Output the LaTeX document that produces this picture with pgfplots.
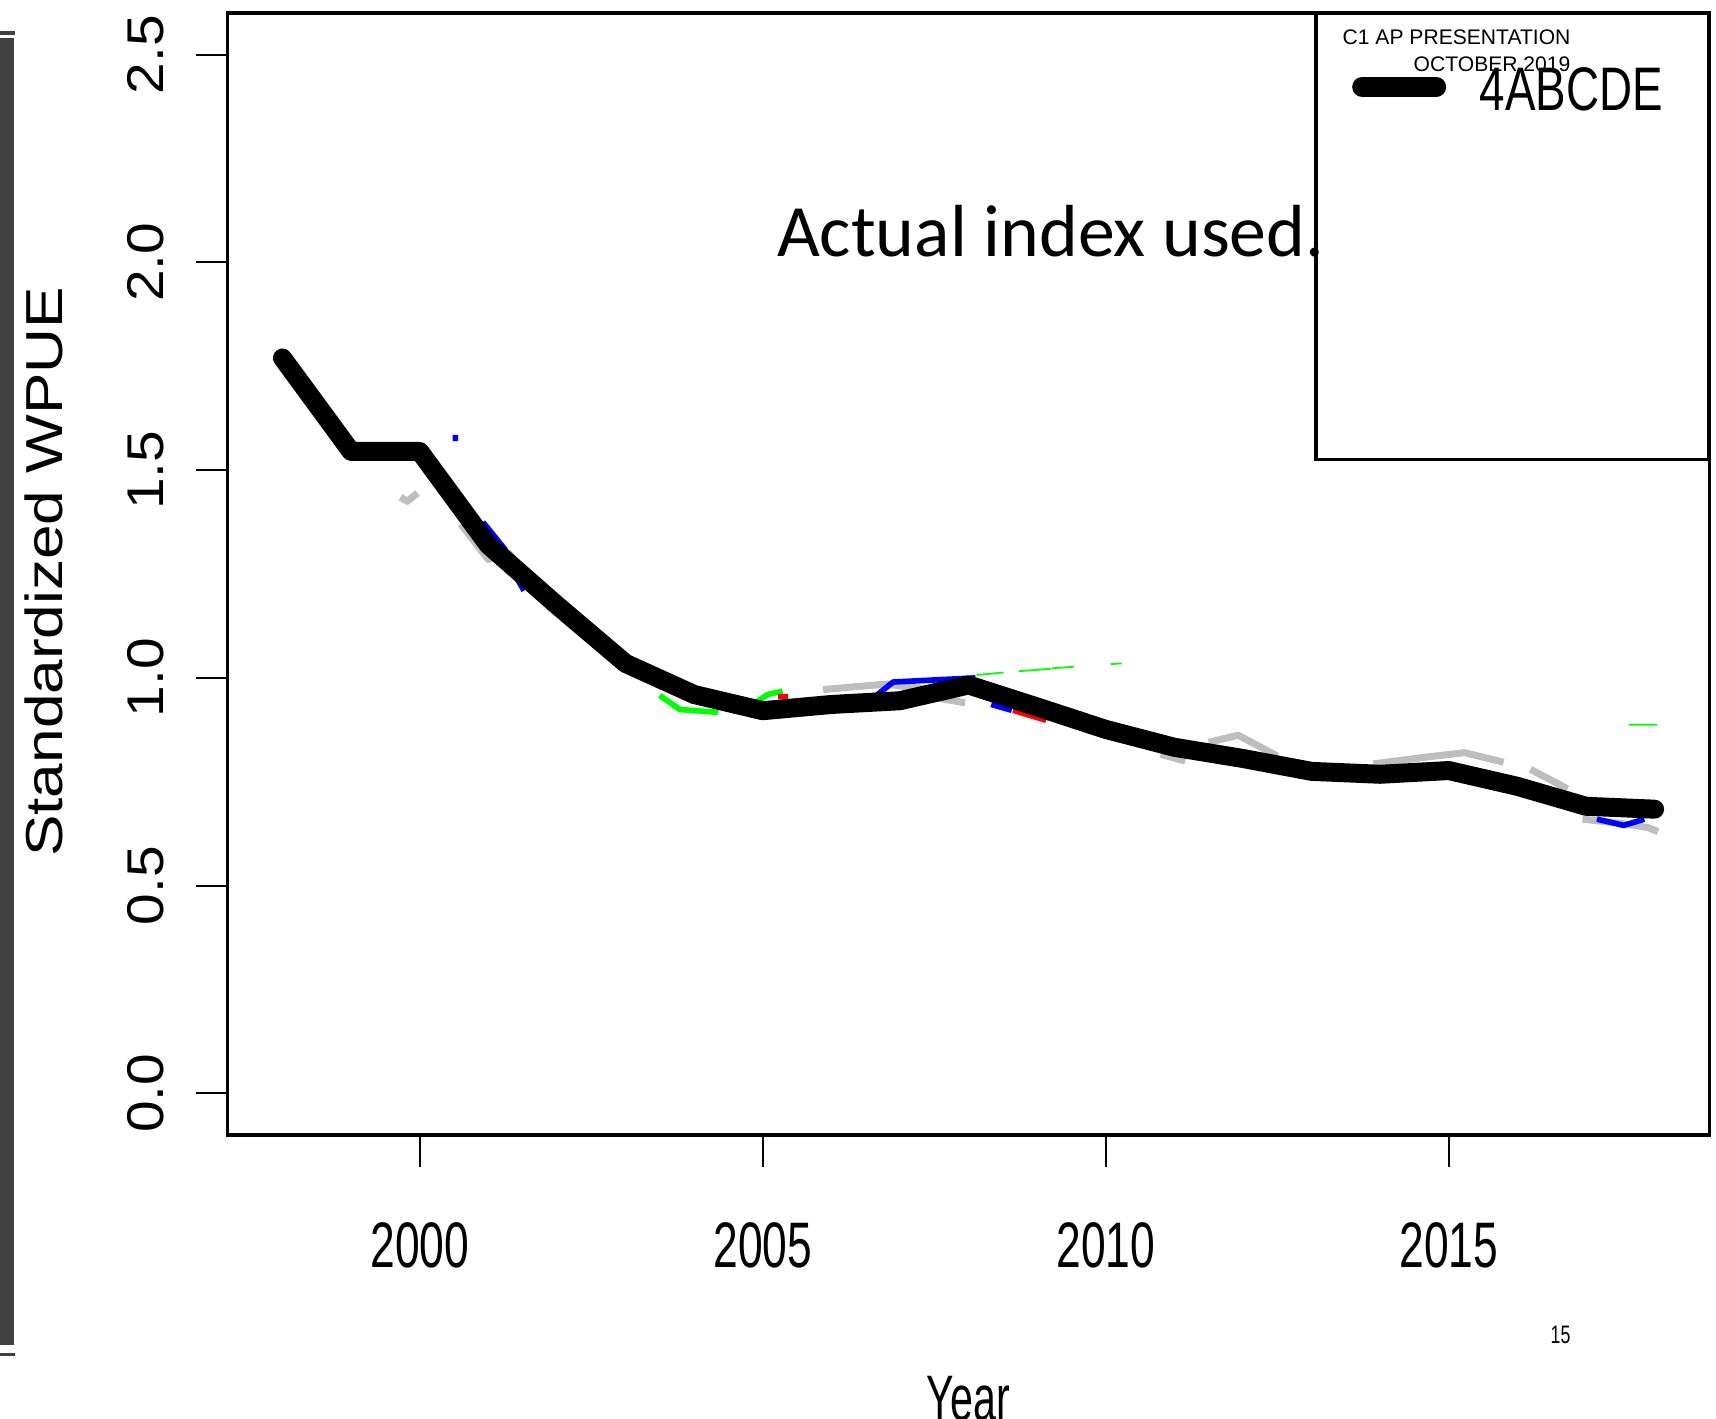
\documentclass[border=0pt]{standalone}
\usepackage{fontspec}
\setmainfont{Liberation Sans}
\newfontfamily\calibri{Carlito}
\usepackage{graphicx}
\usepackage{pgfplots}
\pgfplotsset{compat=1.18}
\definecolor{rgray}{RGB}{190,190,190}
\definecolor{rblue}{RGB}{0,0,255}
\definecolor{rgreen}{RGB}{0,255,0}
\definecolor{rred}{RGB}{255,0,0}
\definecolor{barcol}{RGB}{64,64,64}

\begin{document}
\begin{tikzpicture}
\path[use as bounding box] (0,0) rectangle (17.16cm,-14.19cm);
% slide edge on the left (units: pixels, origin top left)
\begin{scope}[x=0.01cm,y=-0.01cm]
  \fill[barcol] (0,38) rectangle (14,1346);
  \draw[barcol, line width=0.9pt] (0,33) -- (15,33) (0,1355) -- (15,1355);
\end{scope}

\begin{axis}[
    at={(2.276cm,-11.349cm)}, anchor=south west,
    scale only axis, width=14.819cm, height=11.218cm,
    xmin=1997.2, xmax=2018.8, ymin=-0.1, ymax=2.6,
    xtick={2000,2005,2010,2015},
    xticklabels={\scalebox{0.69}[1]{2000},\scalebox{0.69}[1]{2005},\scalebox{0.69}[1]{2010},\scalebox{0.69}[1]{2015}},
    ytick={0,0.5,1,1.5,2,2.5},
    yticklabels={\scalebox{1.1}[1]{0.0},\scalebox{1.1}[1]{0.5},\scalebox{1.1}[1]{1.0},\scalebox{1.1}[1]{1.5},\scalebox{1.1}[1]{2.0},\scalebox{1.1}[1]{2.5}},
    tick align=outside, xtick pos=bottom, ytick pos=left,
    major tick length=0.32cm,
    axis line style={line width=1pt},
    tick style={line width=0.6pt, black},
    xticklabel style={font=\fontsize{18.3}{20}\selectfont, anchor=north, inner sep=0pt, yshift=-0.55cm},
    yticklabel style={font=\fontsize{14.7}{16}\selectfont, rotate=90, anchor=south, inner sep=0pt, yshift=0.31cm},
    xlabel={\scalebox{0.64}[1]{Year}},
    xlabel style={font=\fontsize{18.3}{20}\selectfont, at={(axis description cs:0.5,-0.255)}, anchor=base},
    ylabel={\scalebox{1.195}[1]{Standardized WPUE}},
    ylabel style={font=\fontsize{14.8}{16}\selectfont, at={(axis description cs:-0.1117,0.502)}, anchor=base},
    unbounded coords=jump,
]
% other indices, mostly hidden behind the index in use
\addplot[rgray, line width=2pt, line join=round] coordinates {
  (1999.72,1.435)(1999.82,1.425)(1999.97,1.445) (2000,nan)
  (2000.6,1.37)(2001.0,1.285)(2001.3,1.30)(2001.55,1.25) (2002,nan)
  (2005.88,0.972)(2006.8,0.985)(2007.3,0.975)(2007.6,0.95)(2007.95,0.94) (2008,nan)
  (2010.8,0.816)(2011.16,0.80) (2011.3,nan)
  (2011.5,0.845)(2011.93,0.862)(2012.5,0.812) (2013,nan)
  (2013.9,0.793)(2014.7,0.81)(2015.23,0.82)(2015.8,0.797) (2016,nan)
  (2016.19,0.78)(2016.73,0.733) (2016.8,nan)
  (2016.95,0.66)(2017.5,0.65)(2017.9,0.64)(2018.05,0.63)
};
\addplot[rblue, line width=1.6pt, line join=round] coordinates {
  (2000.52,1.585)(2000.52,1.57) (2000.7,nan)
  (2000.92,1.375)(2001.24,1.31)(2001.35,1.26)(2001.52,1.21) (2002,nan)
  (2006.6,0.95)(2006.9,0.99)(2008.1,1.0) (2008.2,nan)
  (2008.33,0.936)(2008.63,0.922) (2009,nan)
  (2017.16,0.66)(2017.55,0.645)(2017.85,0.66)
};
\addplot[rgreen, line width=1.6pt, line join=round] coordinates {
  (2003.5,0.958)(2003.79,0.924)(2004.35,0.917) (2004.5,nan)
  (2004.9,0.941)(2005.07,0.96)(2005.29,0.968)
};
\addplot[rgreen, line width=0.5pt] coordinates {
  (2008.12,1.007)(2008.51,1.013) (2008.6,nan)
  (2008.73,1.016)(2009.2,1.022) (2009.21,nan)
  (2009.22,1.023)(2009.54,1.027) (2009.8,nan)
  (2010.07,1.033)(2010.23,1.035) (2012,nan)
  (2017.63,0.887)(2018.04,0.887)
};
\addplot[rred, line width=1.6pt] coordinates {
  (2005.22,0.955)(2005.37,0.955) (2006,nan)
  (2008.65,0.922)(2009.13,0.898)
};
% index used
\addplot[black, line width=5.4pt, line join=round, line cap=round] coordinates {
  (1998,1.77)(1999,1.545)(2000,1.545)(2001,1.32)(2002,1.175)(2003,1.035)
  (2004,0.96)(2005,0.921)(2006,0.936)(2007,0.945)(2008,0.983)(2009,0.93)
  (2010,0.876)(2011,0.833)(2012,0.806)(2013,0.775)(2014,0.768)(2015,0.777)
  (2016,0.739)(2017,0.691)(2018,0.684)
};
\end{axis}

\begin{scope}[x=0.01cm,y=-0.01cm]
  % legend box
  \draw[line width=1pt] (1316.6,13) rectangle (1709.5,459.6);
  \draw[line width=5.7pt, line cap=round] (1363,87) -- (1437,87);
  \node[anchor=base east, inner sep=0pt, font=\fontsize{6}{7}\selectfont] at (1572,45) {C1 AP PRESENTATION};
  \node[anchor=base east, inner sep=0pt, font=\fontsize{6}{7}\selectfont] at (1572,72) {OCTOBER 2019};
  \node[anchor=base west, inner sep=0pt, font=\fontsize{17.5}{19}\selectfont] at (1480,111) {\scalebox{0.744}[1]{4ABCDE}};
  % slide annotations
  \node[anchor=base west, inner sep=0pt, font=\calibri\fontsize{21}{24}\selectfont] at (777,257) {Actual index used.};
  \node[anchor=base east, inner sep=0pt, font=\fontsize{7.2}{8}\selectfont] at (1572,1344) {\scalebox{0.7}[1]{15}};
\end{scope}
\end{tikzpicture}
\end{document}
